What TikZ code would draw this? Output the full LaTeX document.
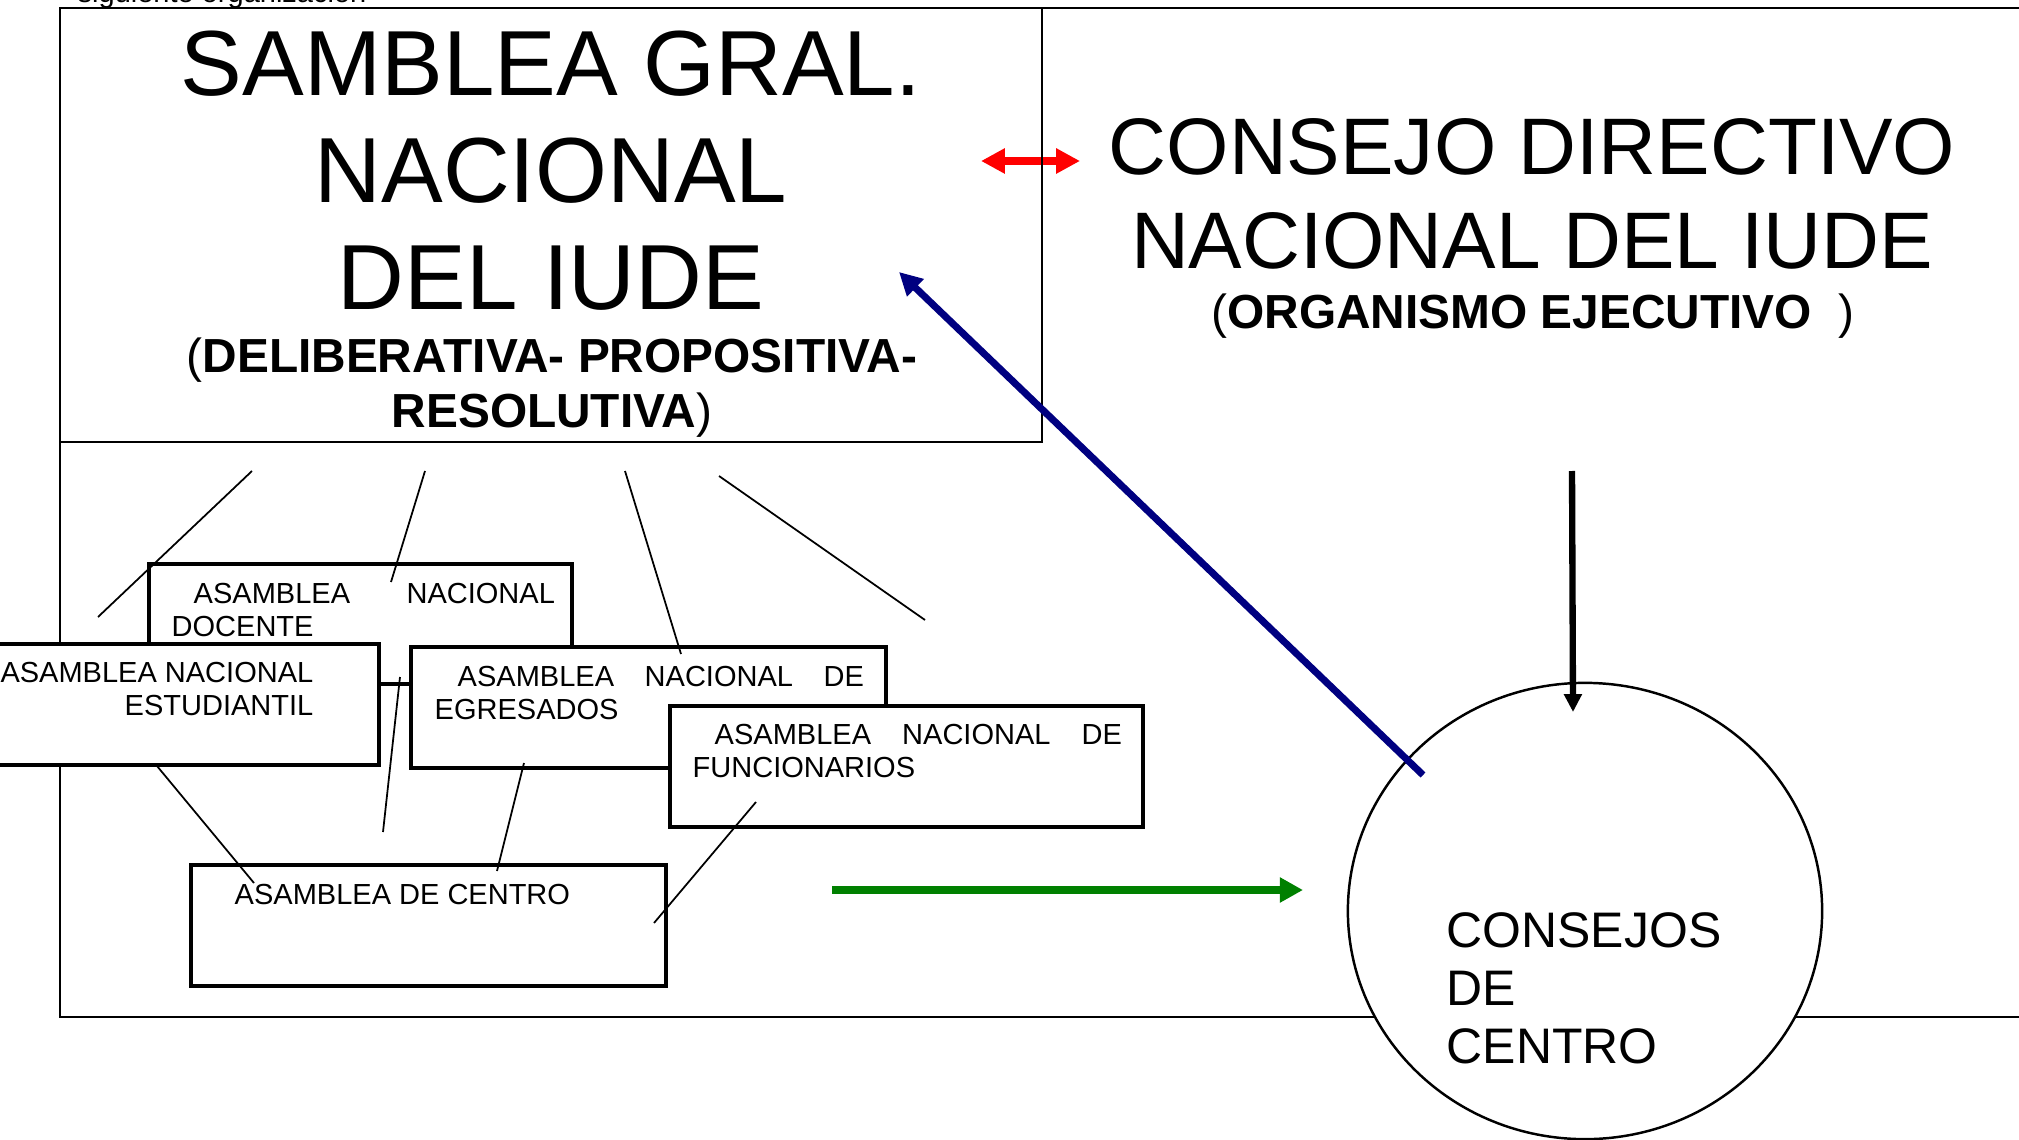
\documentclass[tikz,border=0pt]{standalone}
\usepackage{fontspec}
\setmainfont{Liberation Sans}
\usetikzlibrary{arrows.meta, fit, shapes.geometric}
\definecolor{navyline}{RGB}{0,0,128}
\definecolor{greenline}{RGB}{0,128,0}
\tikzset{
  outerbox/.style={
    draw=black,
    line width=0.7pt,
    inner sep=0pt
  },
  assembly/.style={
    draw=black,
    fill=white,
    line width=1pt,
    inner sep=0pt
  },
  smalltext/.style={
    inner sep=0pt,
    font=\fontsize{8.25}{9.55}\selectfont
  },
  bigtitle/.style={
    inner sep=0pt,
    anchor=base,
    font=\fontsize{26.3}{30.4}\selectfont
  },
  midtitle/.style={
    inner sep=0pt,
    anchor=base,
    font=\fontsize{22.8}{26.5}\selectfont
  },
  subtitle/.style={
    inner sep=0pt,
    anchor=base,
    font=\fontsize{13.6}{15.6}\selectfont
  },
  councils/.style={
    inner sep=0pt,
    anchor=base west,
    font=\fontsize{14.2}{16.5}\selectfont
  },
  council/.style={
    ellipse,
    draw=black,
    fill=white,
    line width=0.7pt,
    minimum width=4.74cm,
    minimum height=4.56cm
  },
  link/.style={draw, line width=0.5pt},
  redarrow/.style={draw=red, line width=2.3pt,
    {Triangle[length=6.8pt,width=6.8pt]}-{Triangle[length=6.8pt,width=6.8pt]}},
  bluearrow/.style={draw=navyline, line width=2pt, -{Triangle[length=6.5pt,width=6.5pt]}},
  greenarrow/.style={draw=greenline, line width=2pt, -{Triangle[length=6.6pt,width=6.8pt]}},
  downarrow/.style={draw=black, line width=1.8pt, -{Triangle[length=5.1pt,width=4.9pt]}}
}

\begin{document}
\begin{tikzpicture}[x=0.01cm, y=-0.01cm, every edge/.style={link}]
  \useasboundingbox (0,0) rectangle (2019,1140);
  \clip (0,0) rectangle (2019,1140);
  \node[smalltext, anchor=base west] (siguiente) at (77,3) {siguiente organización};

  % red arrow goes under the box edge
  \coordinate (rojoL) at (981,161);
  \coordinate (rojoR) at (1080,161);
  \path (rojoL) edge[redarrow] (rojoR);

  \node[outerbox, fit={(60,8) (2150,1017)}] (marco) {};
  \node[outerbox, fit={(60,8) (1042,442)}] (asamblea) {};
  \node[bigtitle] (asambleatxt) at (551,96)
    {\begin{tabular}[t]{@{}c@{}}SAMBLEA GRAL.\\NACIONAL\\DEL IUDE\end{tabular}};
  \node[subtitle] (deliberativa) at (552,373)
    {\begin{tabular}[t]{@{}c@{}}(\textbf{DELIBERATIVA- PROPOSITIVA-}\\\textbf{RESOLUTIVA})\end{tabular}};

  \node[midtitle] (consejo) at (1532,175)
    {\begin{tabular}[t]{@{}c@{}}CONSEJO DIRECTIVO\\NACIONAL DEL IUDE\end{tabular}};
  \node[subtitle] (ejecutivo) at (1533,328) {(\textbf{ORGANISMO EJECUTIVO}\ \ )};

  % the assemblies
  \node[assembly, fit={(149,564) (572,684)}] (docente) {};
  \node[smalltext, anchor=base west] (docentetxt) at (171,603)
    {\begin{tabular}[t]{@{}l@{}}\hspace*{0.22cm}\makebox[3.61cm][s]{ASAMBLEA NACIONAL}\\DOCENTE\end{tabular}};
  \node[assembly, fit={(-20,644) (379,765)}] (estudiantil) {};
  \node[smalltext, anchor=base east] (estudiantiltxt) at (314,682)
    {\begin{tabular}[t]{@{}r@{}}ASAMBLEA NACIONAL\\ESTUDIANTIL\end{tabular}};
  \node[assembly, fit={(411,647) (886,768)}] (egresados) {};
  \node[smalltext, anchor=base west] (egresadostxt) at (434,686)
    {\begin{tabular}[t]{@{}l@{}}\hspace*{0.23cm}\makebox[4.06cm][s]{ASAMBLEA NACIONAL DE}\\EGRESADOS\end{tabular}};
  \node[assembly, fit={(670,706) (1143,827)}] (funcionarios) {};
  \node[smalltext, anchor=base west] (funcionariostxt) at (692,744)
    {\begin{tabular}[t]{@{}l@{}}\hspace*{0.22cm}\makebox[4.07cm][s]{ASAMBLEA NACIONAL DE}\\FUNCIONARIOS\end{tabular}};
  \node[assembly, fit={(191,865) (666,986)}] (centro) {};
  \node[smalltext, anchor=base west] (centrotxt) at (234,904) {ASAMBLEA DE CENTRO};

  \node[council] (consejos) at (1585,911) {};
  \node[councils] (consejostxt) at (1446,947)
    {\begin{tabular}[t]{@{}l@{}}CONSEJOS\\DE\\CENTRO\end{tabular}};

  % loose lines
  \coordinate (s1) at (252,471);  \coordinate (e1) at (98,617);
  \coordinate (s2) at (425,471);  \coordinate (e2) at (391,582);
  \coordinate (s3) at (625,471);  \coordinate (e3) at (681,654);
  \coordinate (s4) at (719,476);  \coordinate (e4) at (925,620);
  \coordinate (s5) at (400,677);  \coordinate (e5) at (383,832);
  \coordinate (s6) at (157,766);  \coordinate (e6) at (254,883);
  \coordinate (s7) at (524,763);  \coordinate (e7) at (497,871);
  \coordinate (s8) at (756,802);  \coordinate (e8) at (654,923);
  \path
  (s1) edge (e1)
  (s2) edge (e2)
  (s3) edge (e3)
  (s4) edge (e4)
  (s5) edge (e5)
  (s6) edge (e6)
  (s7) edge (e7)
  (s8) edge (e8)
  ;

  \coordinate (bajaS) at (1572,471);
  \coordinate (bajaT) at (1573,712);
  \coordinate (verdeS) at (832,890);
  \coordinate (verdeT) at (1303,890);
  \coordinate (azulS) at (1423,775);
  \coordinate (azulT) at (899,272);
  \path
  (bajaS) edge[downarrow] (bajaT)
  (verdeS) edge[greenarrow] (verdeT)
  (azulS) edge[bluearrow] (azulT)
  ;
\end{tikzpicture}
\end{document}
